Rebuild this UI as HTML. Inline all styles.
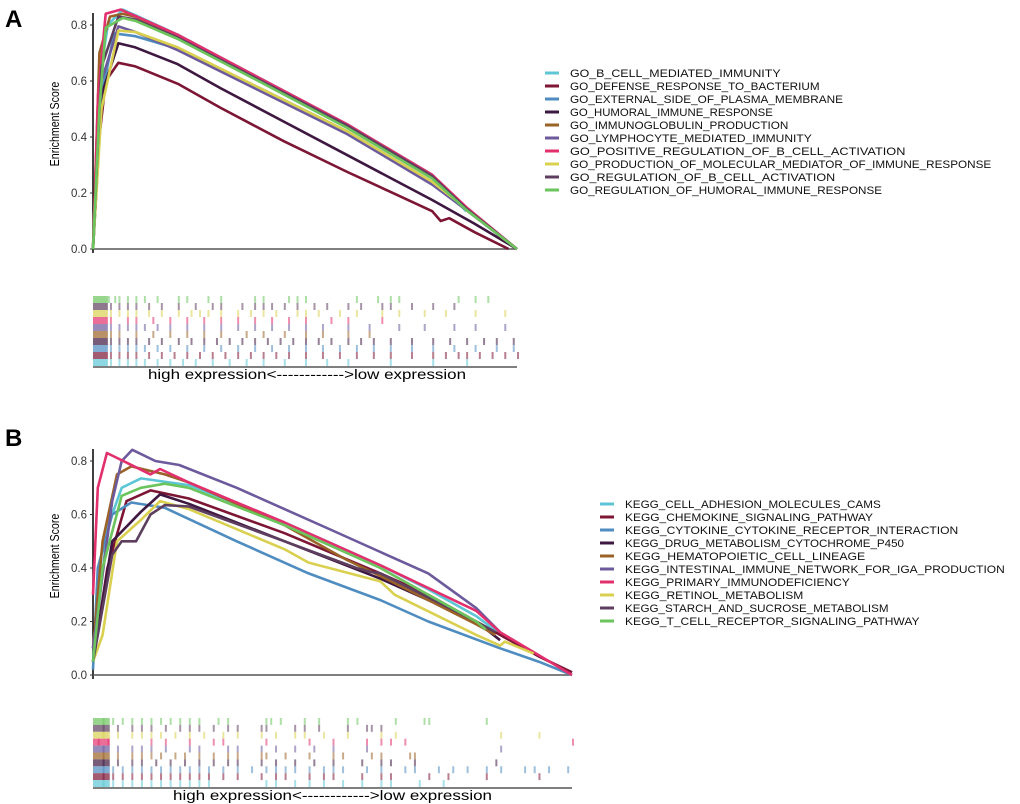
<!DOCTYPE html>
<html><head><meta charset="utf-8"><style>
html,body{margin:0;padding:0;background:#fff;}
svg{display:block;font-family:"Liberation Sans",sans-serif;}
</style></head><body>
<svg id="fig" width="1020" height="804" viewBox="0 0 1020 804">
<text x="5" y="27" font-size="24" font-weight="bold">A</text>
<text x="5" y="446" font-size="24" font-weight="bold">B</text>
<g id="pa"></g>
<g id="pb"></g>
</svg>
<script>
const colors=["#5cc6d6","#7c1634","#4f8cc0","#3e1840","#9a6226","#6c5a9c","#e2306e","#d9d050","#5e3e5e","#6cc45c"];
const namesA=["GO_B_CELL_MEDIATED_IMMUNITY","GO_DEFENSE_RESPONSE_TO_BACTERIUM","GO_EXTERNAL_SIDE_OF_PLASMA_MEMBRANE","GO_HUMORAL_IMMUNE_RESPONSE","GO_IMMUNOGLOBULIN_PRODUCTION","GO_LYMPHOCYTE_MEDIATED_IMMUNITY","GO_POSITIVE_REGULATION_OF_B_CELL_ACTIVATION","GO_PRODUCTION_OF_MOLECULAR_MEDIATOR_OF_IMMUNE_RESPONSE","GO_REGULATION_OF_B_CELL_ACTIVATION","GO_REGULATION_OF_HUMORAL_IMMUNE_RESPONSE"];
const namesB=["KEGG_CELL_ADHESION_MOLECULES_CAMS","KEGG_CHEMOKINE_SIGNALING_PATHWAY","KEGG_CYTOKINE_CYTOKINE_RECEPTOR_INTERACTION","KEGG_DRUG_METABOLISM_CYTOCHROME_P450","KEGG_HEMATOPOIETIC_CELL_LINEAGE","KEGG_INTESTINAL_IMMUNE_NETWORK_FOR_IGA_PRODUCTION","KEGG_PRIMARY_IMMUNODEFICIENCY","KEGG_RETINOL_METABOLISM","KEGG_STARCH_AND_SUCROSE_METABOLISM","KEGG_T_CELL_RECEPTOR_SIGNALING_PATHWAY"];
const yTicks=[0,0.2,0.4,0.6,0.8];
const yTickLabels=["0.0","0.2","0.4","0.6","0.8"];
const seriesA=[
[[0,0],[0.015,0.6],[0.035,0.8],[0.07,0.855],[0.1,0.835],[0.2,0.765],[0.4,0.605],[0.6,0.445],[0.7,0.355],[0.8,0.265],[0.88,0.135]],
[[0,0],[0.015,0.4],[0.03,0.6],[0.06,0.665],[0.1,0.652],[0.2,0.59],[0.3,0.505],[0.45,0.385],[0.6,0.275],[0.7,0.205],[0.8,0.135],[0.82,0.1],[0.84,0.11],[0.9,0.06],[0.98,0.0]],
[[0,0],[0.02,0.55],[0.05,0.77],[0.1,0.76],[0.2,0.715],[0.4,0.57],[0.6,0.42],[0.7,0.33],[0.8,0.24],[0.88,0.14],[1,0]],
[[0,0],[0.02,0.55],[0.06,0.735],[0.1,0.72],[0.2,0.66],[0.3,0.575],[0.45,0.455],[0.6,0.335],[0.7,0.255],[0.8,0.175],[0.9,0.09],[1,0]],
[[0,0],[0.015,0.7],[0.04,0.83],[0.07,0.84],[0.1,0.83],[0.2,0.76],[0.4,0.6],[0.6,0.44],[0.7,0.355],[0.8,0.26],[0.88,0.14],[1,0]],
[[0,0],[0.02,0.6],[0.06,0.795],[0.1,0.775],[0.2,0.71],[0.4,0.56],[0.6,0.41],[0.7,0.32],[0.8,0.23],[0.88,0.14],[1,0]],
[[0,0],[0.012,0.55],[0.03,0.84],[0.065,0.855],[0.1,0.832],[0.2,0.765],[0.4,0.605],[0.6,0.445],[0.7,0.355],[0.8,0.265],[0.88,0.15],[1,0]],
[[0,0],[0.02,0.5],[0.06,0.78],[0.1,0.775],[0.2,0.72],[0.4,0.57],[0.6,0.42],[0.7,0.33],[0.8,0.24],[0.88,0.145],[0.97,0.035]],
[[0,0],[0.02,0.65],[0.06,0.83],[0.1,0.82],[0.2,0.755],[0.4,0.598],[0.6,0.44],[0.7,0.35],[0.8,0.26],[0.88,0.145],[1,0]],
[[0,0],[0.015,0.5],[0.03,0.79],[0.07,0.825],[0.1,0.815],[0.2,0.75],[0.4,0.592],[0.6,0.432],[0.7,0.342],[0.8,0.252],[0.88,0.14],[1,0]]
];
const seriesB=[
[[0,0.05],[0.03,0.55],[0.06,0.7],[0.1,0.735],[0.2,0.71],[0.4,0.57],[0.6,0.41],[0.7,0.32],[0.8,0.22],[0.86,0.14]],
[[0,0.05],[0.03,0.4],[0.07,0.65],[0.12,0.69],[0.2,0.66],[0.4,0.53],[0.6,0.38],[0.7,0.3],[0.85,0.15],[0.93,0.07],[1,0.01]],
[[0,0.02],[0.01,0.4],[0.04,0.6],[0.08,0.645],[0.15,0.625],[0.3,0.5],[0.45,0.38],[0.6,0.28],[0.7,0.2],[0.85,0.1],[0.93,0.05],[1,0]],
[[0,0.05],[0.04,0.5],[0.1,0.61],[0.14,0.675],[0.2,0.64],[0.4,0.5],[0.6,0.36],[0.8,0.2],[0.85,0.13]],
[[0,0.1],[0.02,0.5],[0.05,0.75],[0.08,0.78],[0.15,0.75],[0.2,0.72],[0.4,0.56],[0.53,0.43],[0.6,0.37],[0.8,0.19],[0.84,0.15]],
[[0,0.1],[0.04,0.65],[0.06,0.8],[0.082,0.842],[0.13,0.8],[0.18,0.785],[0.3,0.7],[0.5,0.54],[0.6,0.46],[0.7,0.38],[0.8,0.25],[0.85,0.16]],
[[0,0.3],[0.01,0.7],[0.029,0.83],[0.12,0.75],[0.14,0.77],[0.2,0.72],[0.4,0.57],[0.6,0.41],[0.8,0.24],[0.85,0.16],[1,0.0]],
[[0,0.05],[0.02,0.15],[0.05,0.5],[0.1,0.58],[0.14,0.65],[0.2,0.62],[0.4,0.47],[0.45,0.42],[0.6,0.35],[0.63,0.3],[0.8,0.15],[0.85,0.11],[0.86,0.125],[0.92,0.08]],
[[0,0.05],[0.04,0.45],[0.06,0.5],[0.09,0.5],[0.12,0.6],[0.15,0.635],[0.2,0.63],[0.4,0.5],[0.55,0.4],[0.58,0.385],[0.6,0.38],[0.8,0.2],[0.84,0.16]],
[[0,0.05],[0.02,0.4],[0.06,0.67],[0.1,0.7],[0.15,0.715],[0.2,0.7],[0.4,0.56],[0.6,0.4],[0.7,0.3],[0.8,0.2],[0.82,0.17]]
];
const rugOrder=[9,8,7,6,5,4,3,2,1,0];
const rugA=[
[0.035,0.05,0.06,0.08,0.1,0.12,0.15,0.2,0.22,0.27,0.3,0.38,0.4,0.46,0.48,0.5,0.62,0.67,0.7,0.72,0.86,0.9,0.93],
[0.04,0.06,0.08,0.1,0.13,0.16,0.2,0.24,0.28,0.3,0.35,0.38,0.4,0.42,0.45,0.48,0.52,0.55,0.6,0.63,0.68,0.7,0.75,0.8,0.85],
[0.04,0.06,0.08,0.1,0.13,0.16,0.2,0.23,0.25,0.27,0.3,0.34,0.37,0.4,0.43,0.48,0.5,0.53,0.58,0.62,0.68,0.72,0.78,0.83,0.9,0.97],
[0.04,0.08,0.1,0.14,0.18,0.22,0.26,0.3,0.34,0.38,0.42,0.46,0.5,0.56,0.6,0.68],
[0.04,0.06,0.08,0.1,0.12,0.15,0.18,0.22,0.26,0.3,0.34,0.38,0.42,0.46,0.5,0.54,0.6,0.65,0.72,0.78,0.85,0.9,0.97],
[0.04,0.06,0.1,0.14,0.18,0.22,0.26,0.3,0.36,0.4,0.45,0.5,0.54,0.6,0.65],
[0.04,0.06,0.08,0.1,0.13,0.16,0.2,0.23,0.26,0.29,0.32,0.35,0.38,0.41,0.44,0.47,0.5,0.53,0.56,0.6,0.63,0.66,0.7,0.75,0.8,0.84,0.88,0.92,0.95,0.99],
[0.04,0.06,0.08,0.1,0.12,0.15,0.18,0.22,0.26,0.3,0.34,0.38,0.42,0.46,0.5,0.54,0.58,0.62,0.66,0.7,0.75,0.8,0.85,0.9,0.95,0.99],
[0.04,0.06,0.08,0.1,0.13,0.16,0.19,0.22,0.25,0.28,0.31,0.34,0.37,0.4,0.43,0.46,0.5,0.54,0.58,0.62,0.66,0.7,0.75,0.8,0.83,0.86,0.88,0.91,0.94,0.97,1.0],
[0.04,0.06,0.08,0.1,0.12,0.15,0.18,0.21,0.24,0.28,0.32,0.36,0.4,0.45,0.5,0.55,0.6,0.7,0.8,0.88]
];
const rugB=[
[0.02,0.04,0.06,0.08,0.1,0.12,0.14,0.16,0.18,0.2,0.22,0.26,0.28,0.36,0.37,0.39,0.44,0.47,0.53,0.55,0.63,0.69,0.7,0.82],
[0.02,0.05,0.08,0.1,0.12,0.15,0.18,0.2,0.22,0.25,0.28,0.3,0.35,0.36,0.42,0.44,0.47,0.53,0.57,0.58,0.6],
[0.02,0.05,0.08,0.1,0.12,0.14,0.17,0.2,0.23,0.27,0.3,0.35,0.38,0.42,0.44,0.48,0.53,0.6,0.63,0.85,0.93],
[0.01,0.03,0.12,0.15,0.2,0.25,0.27,0.36,0.45,0.5,0.57,0.6,0.62,0.65,1.0],
[0.02,0.05,0.08,0.1,0.12,0.15,0.2,0.22,0.28,0.3,0.35,0.38,0.42,0.46,0.5,0.57,0.85],
[0.02,0.05,0.08,0.1,0.12,0.14,0.17,0.19,0.22,0.25,0.28,0.3,0.35,0.36,0.4,0.45,0.5,0.52,0.58,0.6,0.66,0.67],
[0.02,0.05,0.08,0.1,0.13,0.16,0.19,0.22,0.25,0.28,0.3,0.35,0.38,0.42,0.46,0.5,0.56,0.6,0.62,0.67,0.84],
[0.02,0.04,0.06,0.08,0.1,0.12,0.14,0.16,0.18,0.2,0.22,0.24,0.27,0.3,0.33,0.36,0.38,0.4,0.42,0.45,0.48,0.5,0.52,0.57,0.6,0.65,0.67,0.72,0.75,0.78,0.82,0.85,0.9,0.92,0.95,0.99],
[0.02,0.04,0.06,0.08,0.1,0.12,0.14,0.16,0.18,0.2,0.22,0.24,0.27,0.3,0.35,0.38,0.4,0.45,0.48,0.5,0.56,0.6,0.62,0.7,0.74,0.82,0.93],
[0.02,0.04,0.06,0.08,0.1,0.12,0.14,0.16,0.18,0.2,0.22,0.24,0.36,0.38,0.42,0.45,0.48,0.52,0.56,0.6,0.62,0.68,0.73]
];
const NS="http://www.w3.org/2000/svg";
function mk(parent,tag,attrs){const e=document.createElementNS(NS,tag);for(const k in attrs)e.setAttribute(k,attrs[k]);parent.appendChild(e);return e;}
function panel(g,cfg,series,names,rug){
  const sx=f=>cfg.x0+f*(cfg.x1-cfg.x0);
  const sy=v=>cfg.y0-v/0.8*(cfg.y0-cfg.y08);
  let ax=mk(g,"line",{x1:cfg.x0,y1:cfg.y08-12,x2:cfg.x0,y2:cfg.y0+4,stroke:"#000","stroke-width":1.5});
  
  
  let bx=mk(g,"line",{x1:cfg.x0,y1:cfg.y0,x2:cfg.x1,y2:cfg.y0,stroke:"#555","stroke-width":1.5});
  
  
  yTicks.forEach((t,i)=>{
    let tl=mk(g,"text",{x:cfg.x0-6,y:sy(t)+4,"font-size":11.5,"text-anchor":"end",fill:"#333"});
    tl.textContent=yTickLabels[i];
    
    
    let tk=mk(g,"line",{x1:cfg.x0-3,y1:sy(t),x2:cfg.x0,y2:sy(t),stroke:"#333"});
    
    
  });
  let yt=mk(g,"text",{x:0,y:0,"font-size":13,"text-anchor":"middle",transform:`translate(${cfg.x0-34},${cfg.ytc}) rotate(-90) scale(0.82,1)`});
  yt.textContent="Enrichment Score";
  
  
  series.forEach((s,i)=>{
    let p=mk(g,"polyline",{points:s.map(d=>sx(d[0]).toFixed(1)+","+sy(d[1]).toFixed(1)).join(" "),fill:"none",stroke:colors[i],"stroke-width":2.6,"stroke-linejoin":"round"});
    
    
  });
  const rh=(cfg.r1-cfg.r0)/10;
  rug.forEach((row,ri)=>{
    const ci=rugOrder[ri];const y=cfg.r0+ri*rh;
    let blk=mk(g,"rect",{x:cfg.x0,y:y,width:(cfg.x1-cfg.x0)*0.035,height:rh,fill:colors[ci],opacity:0.7});
    
    
    row.forEach(f=>{
      let r=mk(g,"rect",{x:sx(f),y:y,width:2,height:rh,fill:colors[ci],opacity:0.55});
      
      
    });
  });
  let rl=mk(g,"line",{x1:cfg.x0,y1:cfg.r1+1,x2:cfg.x1,y2:cfg.r1+1,stroke:"#555","stroke-width":1.5});
  
  
  let xt=mk(g,"text",{x:cfg.xtx,y:cfg.r1+13,"font-size":13.5,textLength:cfg.xtw,lengthAdjust:"spacingAndGlyphs"});
  xt.textContent="high expression<------------>low expression";
  
  
  names.forEach((n,i)=>{
    const y=cfg.ly+i*13;
    let m=mk(g,"line",{x1:cfg.lx,y1:y,x2:cfg.lx+14,y2:y,stroke:colors[i],"stroke-width":3});
    
    
    let t=mk(g,"text",{x:cfg.lx+25,y:y+4,"font-size":11.3,fill:"#111",textLength:n.length*cfg.cw,lengthAdjust:"spacingAndGlyphs"});
    t.textContent=n;
    
    
  });
}
panel(document.getElementById("pa"),{x0:93,x1:517,y0:249,y08:25,r0:296,r1:366,lx:545,ly:73,ytc:124,xtx:148,xtw:318,cw:7.8},seriesA,namesA,rugA);
panel(document.getElementById("pb"),{x0:93,x1:572,y0:675,y08:461,r0:718,r1:787,lx:600,ly:504,ytc:556,xtx:173,xtw:319,cw:7.75},seriesB,namesB,rugB);
</script>
</body></html>
